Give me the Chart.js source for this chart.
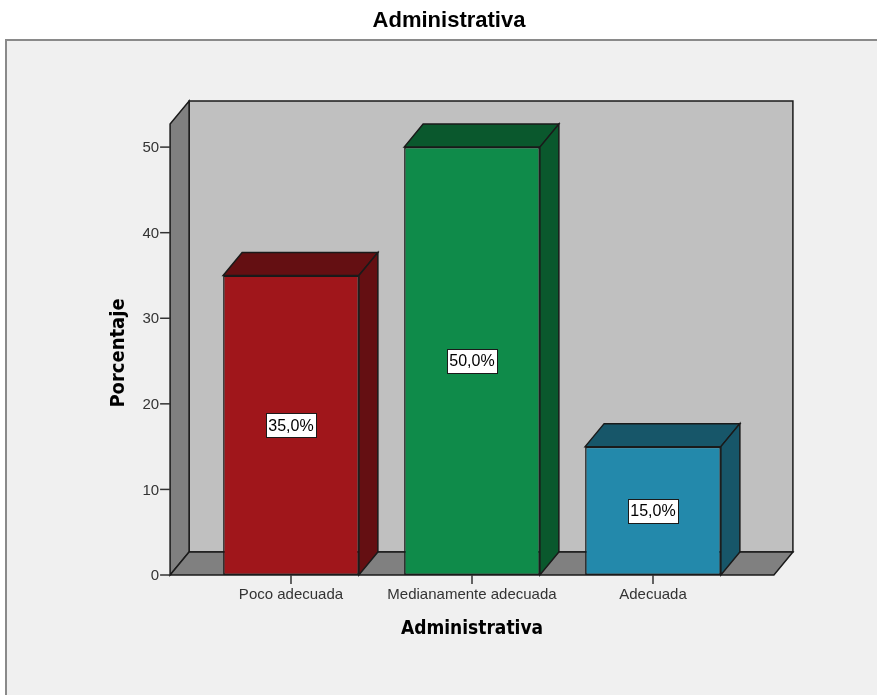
<!DOCTYPE html>
<html>
<head>
<meta charset="utf-8">
<script src="https://cdn.jsdelivr.net/npm/chart.js@4/dist/chart.umd.min.js"></script>
<style>
  html, body { margin: 0; padding: 0; background: #ffffff; }
  #wrap { width: 877px; height: 695px; position: relative; }
</style>
</head>
<body>
<div id="wrap"><canvas id="chart" width="877" height="695"></canvas></div>
<script>
// Distribución de la dimensión Administrativa (porcentaje)
const categories = ['Poco adecuada', 'Medianamente adecuada', 'Adecuada'];
const percentages = [35.0, 50.0, 15.0];
const yTicks = [0, 10, 20, 30, 40, 50];
const chartTitle = 'Administrativa';
const xAxisTitle = 'Administrativa';
const yAxisTitle = 'Porcentaje';

const frontColors = ['#a0161b', '#0f8b4a', '#2389ab'];
const shadeColors = ['#640f12', '#0a582d', '#175669'];

const DEPTH_X = 19;
const DEPTH_Y = 23;
const EDGE = '#1a1a1a';
const SANS = '"Liberation Sans", Arial, sans-serif';
const TITLE_FONT = '"DejaVu Sans Condensed", "DejaVu Sans", sans-serif';

function poly(ctx, pts, fill) {
  ctx.beginPath();
  ctx.moveTo(pts[0][0], pts[0][1]);
  for (let i = 1; i < pts.length; i++) ctx.lineTo(pts[i][0], pts[i][1]);
  ctx.closePath();
  ctx.fillStyle = fill;
  ctx.fill();
  ctx.lineWidth = 1.5;
  ctx.strokeStyle = EDGE;
  ctx.lineJoin = 'miter';
  ctx.stroke();
}

// Frame geometry derived from the scales
function frame(chart) {
  const xs = chart.scales.x, ys = chart.scales.y;
  const step = xs.getPixelForValue(1) - xs.getPixelForValue(0);
  const left = xs.getPixelForValue(0) - step * 0.668;
  const right = xs.getPixelForValue(categories.length - 1) + step * 0.668;
  const base = ys.getPixelForValue(0);
  const top = ys.getPixelForValue(ys.max);
  return { left, right, base, top, step };
}

const boxPlugin = {
  id: 'box3d',
  beforeDraw(chart) {
    const ctx = chart.ctx;
    ctx.save();
    // white page and grey chart panel
    ctx.fillStyle = '#ffffff';
    ctx.fillRect(0, 0, chart.width, chart.height);
    ctx.fillStyle = '#f0f0f0';
    ctx.fillRect(6, 40, chart.width, chart.height);
    ctx.strokeStyle = '#8a8a8a';
    ctx.lineWidth = 2;
    ctx.beginPath();
    ctx.moveTo(6, chart.height + 2);
    ctx.lineTo(6, 40);
    ctx.lineTo(chart.width + 2, 40);
    ctx.stroke();

    // chart title
    ctx.fillStyle = '#000000';
    ctx.font = 'bold 22px ' + SANS;
    ctx.textAlign = 'center';
    ctx.textBaseline = 'middle';
    ctx.fillText(chartTitle, 449, 21);
    ctx.restore();
  },
  beforeDatasetsDraw(chart) {
    const ctx = chart.ctx;
    const f = frame(chart);
    const ys = chart.scales.y, xs = chart.scales.x;
    ctx.save();
    // back wall
    poly(ctx, [
      [f.left + DEPTH_X, f.top - DEPTH_Y], [f.right + DEPTH_X, f.top - DEPTH_Y],
      [f.right + DEPTH_X, f.base - DEPTH_Y], [f.left + DEPTH_X, f.base - DEPTH_Y]
    ], '#c0c0c0');
    // left wall
    poly(ctx, [
      [f.left, f.top], [f.left + DEPTH_X, f.top - DEPTH_Y],
      [f.left + DEPTH_X, f.base - DEPTH_Y], [f.left, f.base]
    ], '#808080');
    // floor
    poly(ctx, [
      [f.left, f.base], [f.left + DEPTH_X, f.base - DEPTH_Y],
      [f.right + DEPTH_X, f.base - DEPTH_Y], [f.right, f.base]
    ], '#808080');

    // y axis ticks and labels
    ctx.strokeStyle = '#333333';
    ctx.lineWidth = 1.5;
    ctx.fillStyle = '#333333';
    ctx.font = '15px ' + SANS;
    ctx.textAlign = 'right';
    ctx.textBaseline = 'middle';
    yTicks.forEach(v => {
      const y = ys.getPixelForValue(v);
      ctx.beginPath();
      ctx.moveTo(f.left - 10, y);
      ctx.lineTo(f.left, y);
      ctx.stroke();
      ctx.fillText(String(v), f.left - 11, y + 1);
    });

    // x axis ticks and category labels
    ctx.textAlign = 'center';
    ctx.textBaseline = 'top';
    categories.forEach((c, i) => {
      const x = xs.getPixelForValue(i);
      ctx.beginPath();
      ctx.moveTo(x, f.base);
      ctx.lineTo(x, f.base + 9);
      ctx.stroke();
      ctx.fillText(c, x, f.base + 12);
    });

    // axis titles
    ctx.fillStyle = '#000000';
    ctx.font = 'bold 19px ' + TITLE_FONT;
    ctx.textBaseline = 'middle';
    ctx.fillText(xAxisTitle, (xs.getPixelForValue(0) + xs.getPixelForValue(categories.length - 1)) / 2, 629);
    ctx.font = 'bold 20px ' + TITLE_FONT;
    ctx.translate(119, 353);
    ctx.rotate(-Math.PI / 2);
    ctx.fillText(yAxisTitle, 0, 0);
    ctx.restore();
  },
  afterDatasetsDraw(chart) {
    const ctx = chart.ctx;
    const meta = chart.getDatasetMeta(0);
    const ys = chart.scales.y;
    ctx.save();
    meta.data.forEach((bar, i) => {
      const p = bar.getProps(['x', 'y', 'base', 'width'], true);
      const l = p.x - p.width / 2, r = p.x + p.width / 2;
      // top face
      poly(ctx, [
        [l, p.y], [l + DEPTH_X, p.y - DEPTH_Y], [r + DEPTH_X, p.y - DEPTH_Y], [r, p.y]
      ], shadeColors[i]);
      // side face
      poly(ctx, [
        [r, p.y], [r + DEPTH_X, p.y - DEPTH_Y], [r + DEPTH_X, p.base - DEPTH_Y], [r, p.base]
      ], shadeColors[i]);

      // value label in a white box at mid-height
      const txt = percentages[i].toFixed(1).replace('.', ',') + '%';
      ctx.font = '16px ' + SANS;
      const w = Math.round(ctx.measureText(txt).width + 5);
      const h = 24;
      const cy = ys.getPixelForValue(percentages[i] / 2);
      const bx = Math.round(p.x - w / 2) + 0.5, by = Math.round(cy - h / 2) + 0.5;
      ctx.fillStyle = '#ffffff';
      ctx.fillRect(bx, by, w, h);
      ctx.strokeStyle = '#1a1a1a';
      ctx.lineWidth = 1;
      ctx.strokeRect(bx, by, w, h);
      ctx.fillStyle = '#000000';
      ctx.textAlign = 'center';
      ctx.textBaseline = 'middle';
      ctx.fillText(txt, p.x, cy + 1);
    });
    ctx.restore();
  }
};

new Chart(document.getElementById('chart'), {
  type: 'bar',
  data: {
    labels: categories,
    datasets: [{
      data: percentages,
      backgroundColor: frontColors,
      borderColor: EDGE,
      borderWidth: 1.5,
      borderSkipped: false,
      barPercentage: 0.75,
      categoryPercentage: 1.0
    }]
  },
  options: {
    responsive: false,
    animation: false,
    devicePixelRatio: 1,
    layout: { padding: { left: 200.5, right: 133.5, top: 124, bottom: 120 } },
    plugins: { legend: { display: false }, tooltip: { enabled: false }, title: { display: false } },
    scales: {
      x: { display: false, offset: true },
      y: { display: false, min: 0, max: 52.7 }
    }
  },
  plugins: [boxPlugin]
});
</script>
</body>
</html>
